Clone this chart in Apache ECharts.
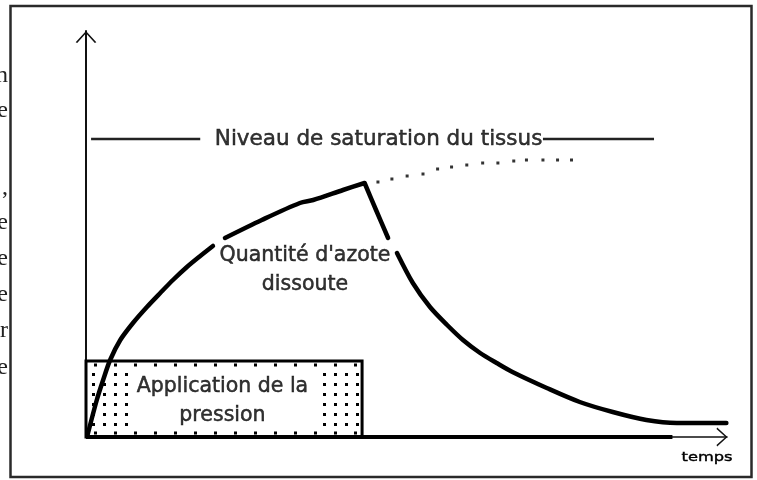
<!DOCTYPE html>
<html>
<head>
<meta charset="utf-8">
<script src="https://cdn.jsdelivr.net/npm/echarts@6/dist/echarts.min.js"></script>
<style>
  html, body { margin: 0; padding: 0; background: #fff; }
  #chart { width: 757px; height: 480px; }
</style>
</head>
<body>
<div id="chart"></div>
<script>
// quantité d'azote dissoute (unités arbitraires)
// null = coupure du trait (sous une étiquette, ou angle vif au sommet)
const curveTime  = [0.2, 1.7, 2.7, 3.8, 5.4, 7.4, 9.6, 11.7, 13.7, 15.9, 18.0, 20.0, 20.9, 21.9, 27.7, 33.7, 35.8, 40.5, 43.9, 43.9, 43.9, 45.7, 47.6, 48.3, 49.0, 51.5, 54.2, 56.9, 59.4, 62.1, 64.7, 67.2, 72.6, 77.8, 83.0, 88.3, 93.1, 100.9];
const curveLevel = [0.25, 9.25, 14.25, 19.25, 24.25, 28.5, 32.5, 36.0, 39.25, 42.5, 45.25, 47.75, null, 49.75, 54.25, 58.5, 59.25, 61.75, 63.5, null, 63.5, 56.75, 49.75, null, 46.0, 38.5, 32.5, 28.0, 24.25, 21.0, 18.5, 16.25, 12.25, 8.75, 6.25, 4.25, 3.5, 3.5];

// suite théorique sans décompression (pointillés)
const dotTime  = [46.0, 48.2, 50.6, 53.1, 55.4, 57.6, 60.0, 62.5, 64.9, 67.4, 69.4, 72.0, 74.3, 76.5];
const dotLevel = [63.75, 64.5, 65.25, 65.75, 67.0, 67.5, 68.0, 68.5, 68.5, 69.0, 69.25, 69.25, 69.25, 69.25];

// niveau de saturation
const satTime  = [0.8, 18.0, null, 72.0, 89.5];
const satLevel = 74.5;

// phase d'application de la pression [début, fin, hauteur]
const pressurePhase = [[0, 43.5, 19]];

// trait épais de l'axe des temps
const baseTime = [0, 92.4];

const chart = echarts.init(document.getElementById('chart'));

const zip = (xs, ys) => xs.map((x, i) => [x, ys[i] == null ? '-' : ys[i]]);

// motif pointillé des bandes de la boîte
const pat = document.createElement('canvas');
pat.width = 11; pat.height = 10;
const pctx = pat.getContext('2d');
pctx.fillStyle = '#000';
pctx.fillRect(4, 3, 3, 3);

const chevron = 'path://M0,12 L11,0 L22,12 L20.4,12.8 L11,2.4 L1.6,12.8 Z';
const font = '"DejaVu Sans", sans-serif';

const leftFragments = [['n', 76], ['e', 111], [',', 188], ['e', 223], ['e', 259], ['e', 295], ['r', 331], ['e', 368]];

chart.setOption({
  animation: false,
  backgroundColor: '#fff',
  grid: { left: 86, right: 30, top: 31, bottom: 43 },
  xAxis: {
    type: 'value', min: 0, max: 101,
    axisLine: {
      show: true, onZero: false,
      symbol: ['none', chevron], symbolSize: [20, 11], symbolOffset: [0, -5],
      lineStyle: { color: '#111', width: 1.5 }
    },
    axisTick: { show: false }, axisLabel: { show: false }, splitLine: { show: false }
  },
  yAxis: {
    type: 'value', min: 0, max: 101.5,
    axisLine: {
      show: true, onZero: false,
      symbol: ['none', chevron], symbolSize: [22, 12], symbolOffset: [0, -6],
      lineStyle: { color: '#111', width: 2 }
    },
    axisTick: { show: false }, axisLabel: { show: false }, splitLine: { show: false }
  },
  graphic: [
    { type: 'rect', shape: { x: 10.5, y: 6, width: 741, height: 471 },
      style: { fill: null, stroke: '#2a2a2a', lineWidth: 2.5 }, z: 100 },
    { type: 'text', x: 707, y: 458, scaleX: 1.25,
      style: { text: 'temps', font: '13px ' + font, fill: '#000', stroke: '#000', lineWidth: 0.4, textAlign: 'center', textVerticalAlign: 'middle' }, z: 100 }
  ].concat(leftFragments.map(f => ({
    type: 'text', x: 8, y: f[1],
    style: { text: f[0], font: '24px "Liberation Serif", serif', fill: '#222', textAlign: 'right', textVerticalAlign: 'middle' }
  }))),
  series: [
    {
      type: 'custom', clip: false, z: 2,
      data: pressurePhase,
      renderItem: function (params, api) {
        const p0 = api.coord([api.value(0), api.value(2)]);
        const p1 = api.coord([api.value(1), 0]);
        const x = p0[0], y = p0[1], w = p1[0] - p0[0], h = p1[1] - p0[1];
        return {
          type: 'group',
          children: [
            { type: 'rect', shape: { x: x, y: y, width: w, height: h }, style: { fill: '#fff' } },
            { type: 'rect', shape: { x: x + 3, y: y + 6, width: 43, height: h - 10 }, style: { fill: { image: pat, repeat: 'repeat' } } },
            { type: 'rect', shape: { x: x + w - 40, y: y + 6, width: 37, height: h - 10 }, style: { fill: { image: pat, repeat: 'repeat' } } },
            { type: 'line', shape: { x1: x + 8, y1: y + 4, x2: x + w - 4, y2: y + 4 }, style: { stroke: '#000', lineWidth: 3, lineDash: [3, 17] } },
            { type: 'line', shape: { x1: x + 8, y1: y + h - 4, x2: x + w - 4, y2: y + h - 4 }, style: { stroke: '#000', lineWidth: 3, lineDash: [3, 17] } },
            { type: 'rect', shape: { x: x, y: y, width: w, height: h }, style: { fill: null, stroke: '#000', lineWidth: 3 } }
          ]
        };
      }
    },
    {
      type: 'line', clip: false, z: 3, symbol: 'none',
      data: baseTime.map(t => [t, 0]),
      lineStyle: { color: '#000', width: 4 }
    },
    {
      type: 'line', clip: false, z: 3, symbol: 'none', connectNulls: false,
      data: satTime.map(t => [t == null ? '-' : t, t == null ? '-' : satLevel]),
      lineStyle: { color: '#222', width: 2.5 }
    },
    {
      type: 'scatter', z: 3, symbol: 'rect', symbolSize: 3,
      data: zip(dotTime, dotLevel),
      itemStyle: { color: '#000' }
    },
    {
      type: 'line', clip: false, z: 4, symbol: 'none', connectNulls: false,
      smooth: 0.3,
      data: zip(curveTime, curveLevel),
      lineStyle: { color: '#000', width: 4.5, join: 'round', cap: 'round' }
    },
    {
      type: 'scatter', z: 5, symbolSize: 0, silent: true,
      data: [
        { value: [46.1, 74.5], name: 'Niveau de saturation du tissus', label: { fontSize: 21.5 } },
        { value: [34.5, 41.8], name: "Quantité d'azote\ndissoute", label: { fontSize: 20.5 } },
        { value: [21.5, 9.0], name: "Application de la\npression", label: { fontSize: 20.5 } }
      ],
      label: {
        show: true, position: 'inside',
        formatter: p => p.name,
        fontFamily: font, color: '#000', textBorderColor: '#000', textBorderWidth: 0.5,
        lineHeight: 29, align: 'center'
      }
    }
  ]
});
</script>
</body>
</html>
